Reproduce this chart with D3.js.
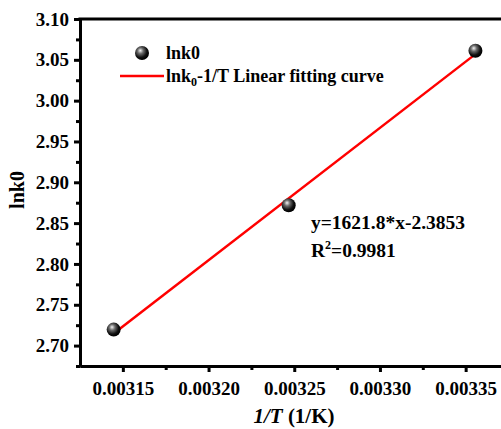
<!DOCTYPE html>
<html>
<head>
<meta charset="utf-8">
<script src="https://cdn.jsdelivr.net/npm/d3@7"></script>
<style>
body { margin: 0; background: #fff; }
svg text { font-family: "Liberation Serif", "Times New Roman", "DejaVu Serif", serif; font-weight: bold; fill: #000; }
</style>
</head>
<body>
<div id="chart"></div>
<script>
// measured points: 1/T for 318, 308, 298 K
const invT = [1 / 318, 1 / 308, 1 / 298];
const lnk0 = [2.7196, 2.8718, 3.0612];
const slope = 1621.8;
const intercept = -2.3853;
const xTicks = [0.00315, 0.00320, 0.00325, 0.00330, 0.00335];
const yTicks = [2.70, 2.75, 2.80, 2.85, 2.90, 2.95, 3.00, 3.05, 3.10];

const W = 501, H = 429;
const mLeft = 80, mTop = 19, mBottom = 366;
const serif = '"Liberation Serif", "Times New Roman", serif';

const svg = d3.select('#chart').append('svg')
	.attr('width', W)
	.attr('height', H);

const x = d3.scaleLinear()
	.domain([0.003125, 0.00338])
	.range([mLeft, mLeft + (0.00338 - 0.003125) / 0.00005 * 85.7]);

const y = d3.scaleLinear()
	.domain([2.675, 3.10])
	.range([mBottom, mTop]);

const defs = svg.append('defs');
const grad = defs.append('radialGradient')
	.attr('id', 'ball')
	.attr('cx', '40%').attr('cy', '38%').attr('r', '60%')
	.attr('fx', '38%').attr('fy', '32%');
grad.append('stop').attr('offset', '0%').attr('stop-color', '#f4f4f4');
grad.append('stop').attr('offset', '35%').attr('stop-color', '#6a6a6a');
grad.append('stop').attr('offset', '75%').attr('stop-color', '#111');
grad.append('stop').attr('offset', '100%').attr('stop-color', '#000');

// axes
const minorX = d3.range(0, 6).map(i => 0.003175 + i * 0.00005);
const minorY = d3.range(0, 9).map(i => 2.675 + i * 0.05);

const xAxis = svg.append('g')
	.attr('transform', `translate(0, ${mBottom})`)
	.call(d3.axisBottom(x).tickValues(xTicks).tickFormat(d3.format('.5f')).tickSize(6).tickSizeOuter(0).tickPadding(10));
xAxis.append('g')
	.call(d3.axisBottom(x).tickValues(minorX).tickFormat('').tickSize(4).tickSizeOuter(0));

const yAxis = svg.append('g')
	.attr('transform', `translate(${mLeft}, 0)`)
	.call(d3.axisLeft(y).tickValues(yTicks).tickFormat(d3.format('.2f')).tickSize(6).tickSizeOuter(0).tickPadding(5));
yAxis.append('g')
	.call(d3.axisLeft(y).tickValues(minorY).tickFormat('').tickSize(4).tickSizeOuter(0));

svg.selectAll('g').attr('font-family', serif);
svg.selectAll('.domain').attr('stroke', '#000').attr('stroke-width', 3);
svg.selectAll('.tick line').attr('stroke', '#000').attr('stroke-width', 3);
svg.selectAll('.tick text').style('font-size', '19px');

// top frame line
svg.append('line')
	.attr('x1', mLeft - 1.5).attr('x2', W)
	.attr('y1', mTop).attr('y2', mTop)
	.attr('stroke', '#000').attr('stroke-width', 3);

// fitted line
const xFit = [invT[0], invT[invT.length - 1]];
svg.append('path')
	.datum(xFit)
	.attr('fill', 'none')
	.attr('stroke', '#ff0000')
	.attr('stroke-width', 2.5)
	.attr('d', d3.line().x(d => x(d)).y(d => y(slope * d + intercept)));

// points
svg.selectAll('.pt')
	.data(invT.map((d, i) => [d, lnk0[i]]))
	.enter()
	.append('circle')
	.attr('class', 'pt')
	.attr('cx', d => x(d[0]))
	.attr('cy', d => y(d[1]))
	.attr('r', 7)
	.attr('fill', 'url(#ball)');

// legend
const lg = svg.append('g').attr('transform', 'translate(120, 0)');
lg.append('circle').attr('cx', 22).attr('cy', 53).attr('r', 7).attr('fill', 'url(#ball)');
lg.append('text').attr('x', 46).attr('y', 59).style('font-size', '18px').text('lnk0');
lg.append('line').attr('x1', 0).attr('x2', 44).attr('y1', 76).attr('y2', 76)
	.attr('stroke', '#ff0000').attr('stroke-width', 2.5);
const t2 = lg.append('text').attr('x', 46).attr('y', 82).style('font-size', '18px');
t2.append('tspan').text('lnk');
t2.append('tspan').attr('dy', 4).style('font-size', '12px').text('0');
t2.append('tspan').attr('dy', -4).text('-1/T Linear fitting curve');

// equation
svg.append('text').attr('x', 311).attr('y', 229).style('font-size', '19.5px').text('y=1621.8*x-2.3853');
const r2 = svg.append('text').attr('x', 311).attr('y', 257).style('font-size', '19.5px');
r2.append('tspan').text('R');
r2.append('tspan').attr('dy', -8).style('font-size', '12px').text('2');
r2.append('tspan').attr('dy', 8).text('=0.9981');

// axis titles
svg.append('text')
	.attr('transform', 'translate(24, 190) rotate(-90)')
	.attr('text-anchor', 'middle')
	.style('font-size', '20px')
	.text('lnk0');

const xt = svg.append('text')
	.attr('x', 294).attr('y', 423)
	.attr('text-anchor', 'middle')
	.style('font-size', '21px');
xt.append('tspan').style('font-style', 'italic').text('1/T');
xt.append('tspan').text(' (1/K)');
</script>
</body>
</html>
